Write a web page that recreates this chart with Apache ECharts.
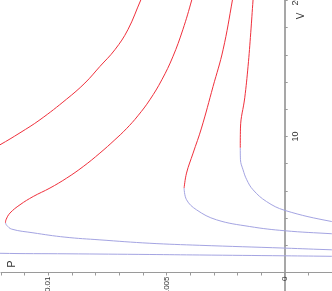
<!DOCTYPE html>
<html>
<head>
<meta charset="utf-8">
<script src="https://cdn.jsdelivr.net/npm/echarts@6/dist/echarts.min.js"></script>
<style>
html,body{margin:0;padding:0;background:#fff;}
#chart{width:332px;height:291px;}
</style>
</head>
<body>
<div id="chart"></div>
<script>
// Isotherms: points are [P, V]
const redA = [[0.005831,21.0],[0.006084,20.05],[0.006634,17.85],[0.007183,16.38],[0.007817,15.15],[0.008451,13.93],[0.009224,12.75],[0.010352,11.23],[0.011197,10.27],[0.012042,9.39],[0.012887,8.58]];
const blueA = [[0.013732,1.52],[0.012042,1.412],[0.009211,1.375],[0.005704,1.324],[0.003592,1.287],[0,1.228],[-0.001986,1.191],[-0.003169,1.169]];
const redB = [[0.003803,21.0],[0.003930,20.05],[0.004310,17.85],[0.004732,15.86],[0.005197,14.17],[0.005704,12.70],[0.006211,11.52],[0.006697,10.57],[0.007183,9.76],[0.007817,8.78],[0.008522,7.79],[0.009224,6.94],[0.009929,6.21],[0.010635,5.59],[0.011197,4.98],[0.011620,4.37],[0.011789,3.875],[0.011810,3.65]];
const blueB = [[0.011810,3.65],[0.011759,3.47],[0.011548,3.19],[0.010648,2.92],[0.009296,2.60],[0.007817,2.40],[0.005704,2.15],[0.003592,2.00],[0,1.794],[-0.001986,1.669],[-0.003169,1.61]];
const redC = [[0.002134,21.0],[0.002210,20.05],[0.002607,16.38],[0.003030,13.68],[0.003520,10.62],[0.003875,8.78],[0.004153,7.31],[0.004255,6.21]];
const blueC = [[0.004255,6.21],[0.004153,5.35],[0.003731,4.61],[0.002886,3.875],[0.001479,3.38],[0,3.07],[-0.001986,2.85],[-0.003169,2.74]];
const redD = [[0.001297,21.0],[0.001339,20.05],[0.001437,17.63],[0.001551,15.15],[0.00169,12.85],[0.001872,10.62],[0.001880,9.17]];
const blueD = [[0.001880,9.17],[0.001872,8.29],[0.001762,7.55],[0.001606,6.82],[0.001339,6.08],[0.000773,5.22],[0,4.57],[-0.001986,3.75],[-0.003169,3.51]];

const pTickLabels = {'0':'0', '0.005':'0.005', '0.01':'0.01'};
const vTickLabels = {'10':'10', '20':'20'};

const RED = '#f0303c';
const BLUE = '#a4a4e2';
const FONT = '"Liberation Sans Narrow", "Liberation Sans", sans-serif';

function mk(data, color) {
  return {type:'line', data:data, showSymbol:false, smooth:0.4, clip:true,
    lineStyle:{color:color, width:1}, itemStyle:{color:color}, animation:false, silent:true};
}

const chart = echarts.init(document.getElementById('chart'), null, {renderer:'canvas'});
chart.setOption({
  animation:false,
  backgroundColor:'#fff',
  grid:{left:1, right:0, top:0.5, bottom:-8.7, containLabel:false, outerBoundsMode:'none'},
  xAxis:{
    type:'value', inverse:true, min:-0.002, max:0.012, interval:0.001,
    position:'bottom', offset:-27.2,
    splitLine:{show:false},
    axisLine:{onZero:false, lineStyle:{color:'#9a9a9a', width:1}},
    axisTick:{show:true, length:3, interval:0, lineStyle:{color:'#9a9a9a'}},
    axisLabel:{
      interval:0, rotate:90, fontSize:8, color:'#333', fontFamily:FONT, margin:4,
      formatter:function(v){ const k = String(Math.round(v*1000)/1000); return pTickLabels[k] !== undefined ? pTickLabels[k] : ''; }
    }
  },
  yAxis:{
    type:'value', min:-2, max:20, interval:2,
    position:'right', offset:-47.3,
    splitLine:{show:false},
    axisLine:{onZero:false, lineStyle:{color:'#8a8a8a', width:1.5}},
    axisTick:{show:true, length:3, interval:0, lineStyle:{color:'#9a9a9a'}},
    axisLabel:{
      interval:0, rotate:90, fontSize:9, color:'#333', fontFamily:FONT, margin:6,
      formatter:function(v){ const k = String(Math.round(v)); return vTickLabels[k] !== undefined ? vTickLabels[k] : ''; }
    }
  },
  graphic:[
    {type:'text', x:301, y:16, rotation:Math.PI/2, style:{text:'V', fill:'#333', font:'10px ' + FONT, align:'center', verticalAlign:'middle'}},
    {type:'text', x:12, y:264, rotation:Math.PI/2, style:{text:'P', fill:'#333', font:'11px ' + FONT, align:'center', verticalAlign:'middle'}}
  ],
  series:[
    mk(blueA, BLUE), mk(blueB, BLUE), mk(blueC, BLUE), mk(blueD, BLUE),
    mk(redA, RED), mk(redB, RED), mk(redC, RED), mk(redD, RED)
  ]
});
</script>
</body>
</html>
